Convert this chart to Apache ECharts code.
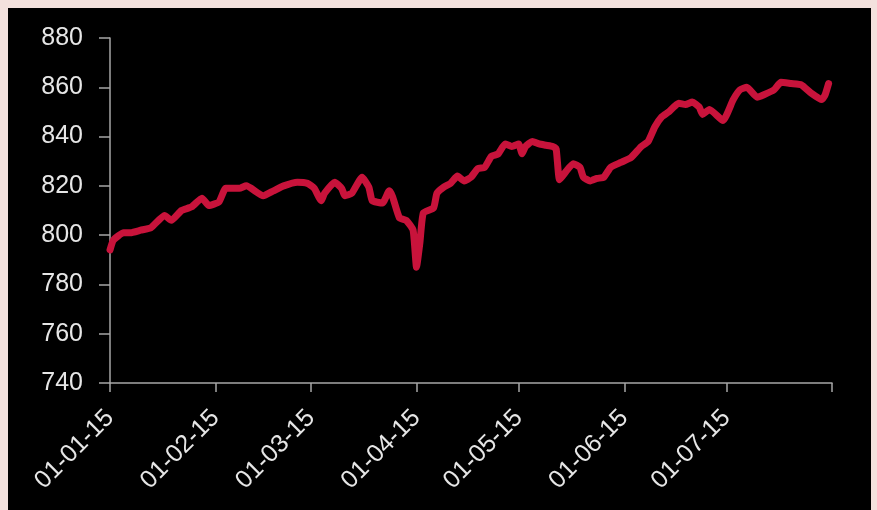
<!DOCTYPE html>
<html>
<head>
<meta charset="utf-8">
<script src="https://cdn.jsdelivr.net/npm/echarts@6.0.0/dist/echarts.min.js"></script>
<style>
  html, body { margin: 0; padding: 0; background: #f3e1dd; }
  #main { position: absolute; left: 8px; top: 8px; width: 863px; height: 502px; background: #000; }
</style>
</head>
<body>
<div id="main"></div>
<script>
// dates and index values
var dates = [
  '2015-01-01','2015-01-02','2015-01-05','2015-01-07','2015-01-10','2015-01-13','2015-01-17','2015-01-19',
  '2015-01-22','2015-01-25','2015-01-28','2015-01-30','2015-02-02','2015-02-04','2015-02-08','2015-02-10',
  '2015-02-15','2015-02-18','2015-02-21','2015-02-25','2015-02-28','2015-03-02','2015-03-04','2015-03-05',
  '2015-03-08','2015-03-10','2015-03-11','2015-03-13','2015-03-16','2015-03-18','2015-03-19','2015-03-22',
  '2015-03-24','2015-03-25','2015-03-27','2015-03-29','2015-03-31','2015-04-01','2015-04-02','2015-04-03',
  '2015-04-06','2015-04-07','2015-04-09','2015-04-11','2015-04-13','2015-04-15','2015-04-17','2015-04-19',
  '2015-04-21','2015-04-23','2015-04-25','2015-04-27','2015-04-29','2015-05-01','2015-05-02','2015-05-03',
  '2015-05-05','2015-05-07','2015-05-09','2015-05-11','2015-05-12','2015-05-13','2015-05-15','2015-05-17',
  '2015-05-19','2015-05-20','2015-05-22','2015-05-24','2015-05-26','2015-05-28','2015-05-31','2015-06-03',
  '2015-06-06','2015-06-08','2015-06-10','2015-06-12','2015-06-14','2015-06-17','2015-06-19','2015-06-21',
  '2015-06-23','2015-06-24','2015-06-26','2015-06-30','2015-07-03','2015-07-05','2015-07-07','2015-07-10',
  '2015-07-12','2015-07-15','2015-07-17','2015-07-20','2015-07-23','2015-07-26','2015-07-29','2015-07-30',
  '2015-07-31'
];
var values = [
  794, 798, 801, 801, 802, 803, 808, 806,
  810, 811.5, 815, 812, 813.5, 819, 819, 820,
  816, 818, 820, 821.5, 821, 819, 814, 817,
  821.5, 819, 816, 817, 823.5, 819.5, 814, 813,
  818, 815.5, 807, 806, 802, 787, 797, 809,
  811, 817, 819.5, 821, 824, 822, 823.5, 827,
  827.5, 832, 833, 837, 836, 837, 833, 836,
  838, 837, 836.5, 836, 835, 822.5, 826, 829,
  827.5, 823.5, 822, 823, 823.5, 827.5, 829.5, 831.5,
  836, 838, 844, 848, 850, 853.5, 853, 854,
  852, 849, 851, 846.5, 855, 859, 860, 856,
  857, 859, 862, 861.5, 861, 857.5, 855, 857,
  861.5
];
var yTicks = [740, 760, 780, 800, 820, 840, 860, 880];
var monthLabels = ['2015-01-01','2015-02-01','2015-03-01','2015-04-01','2015-05-01','2015-06-01','2015-07-01'];
var monthTicks = monthLabels.concat(['2015-08-01']);

// x axis is counted in days from the first date
var DAY = 86400000;
var start = Date.UTC(2015, 0, 1);
function toDay(s) {
  var p = s.split('-');
  return Math.round((Date.UTC(+p[0], +p[1] - 1, +p[2]) - start) / DAY);
}
function pad(n) { return (n < 10 ? '0' : '') + n; }

var seriesData = dates.map(function (d, i) { return [toDay(d), values[i]]; });

var myChart = echarts.init(document.getElementById('main'));
var textColor = '#e6e6e6';
var axisColor = '#a6a6a6';
var font = '"Liberation Sans", Arial, sans-serif';

myChart.setOption({
  animation: false,
  backgroundColor: '#000',
  grid: { left: 102, top: 30, right: 39, bottom: 127 },
  xAxis: {
    type: 'value',
    min: 0,
    max: toDay(monthTicks[monthTicks.length - 1]),
    axisLine: { show: true, onZero: false, lineStyle: { color: axisColor, width: 1.5 } },
    axisTick: {
      show: true, length: 9, inside: false,
      lineStyle: { color: axisColor, width: 1.5 },
      customValues: monthTicks.map(toDay)
    },
    axisLabel: {
      rotate: 45,
      margin: 31,
      color: textColor,
      fontFamily: font,
      fontSize: 25,
      customValues: monthLabels.map(toDay),
      formatter: function (val) {
        var d = new Date(start + val * DAY);
        return pad(d.getUTCDate()) + '-' + pad(d.getUTCMonth() + 1) + '-' + String(d.getUTCFullYear()).slice(2);
      }
    },
    splitLine: { show: false }
  },
  yAxis: {
    type: 'value',
    min: yTicks[0],
    max: yTicks[yTicks.length - 1],
    interval: 20,
    axisLine: { show: true, lineStyle: { color: axisColor, width: 1.5 } },
    axisTick: { show: true, length: 11, lineStyle: { color: axisColor, width: 1.5 } },
    axisLabel: { margin: 27, color: textColor, fontFamily: font, fontSize: 25 },
    splitLine: { show: false }
  },
  series: [{
    type: 'line',
    data: seriesData,
    showSymbol: false,
    smooth: 0.15,
    lineStyle: { color: '#c8133b', width: 7, cap: 'round', join: 'round' }
  }]
});
</script>
</body>
</html>
